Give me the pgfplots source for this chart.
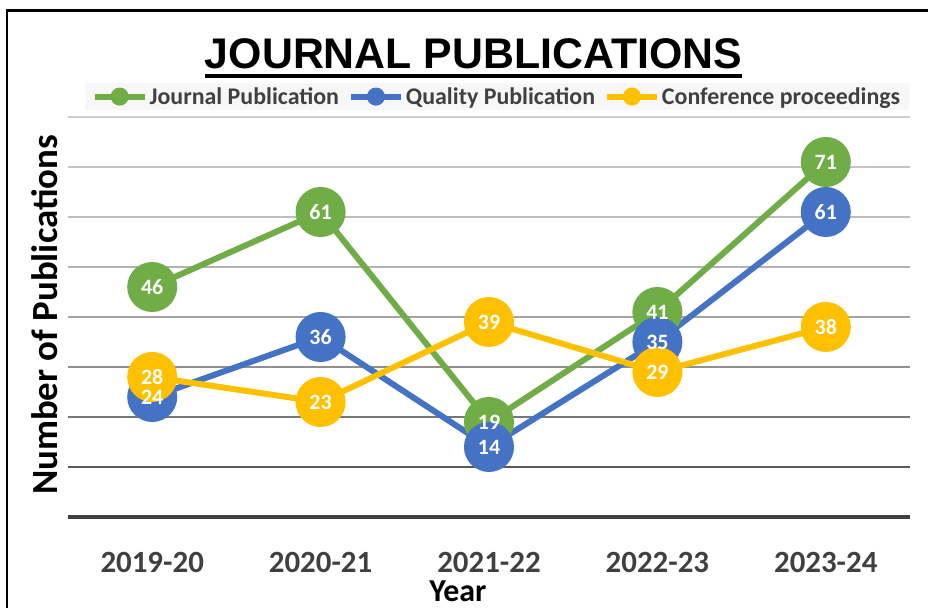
\documentclass[border=0pt]{standalone}
\usepackage{pgfplots}
\pgfplotsset{compat=1.18}
\usepackage{pgfplotstable}
\usepackage{fontspec}
\setmainfont{Carlito}
\newfontfamily\arialfont{Liberation Sans}
\definecolor{jgreen}{HTML}{70AD47}
\definecolor{qblue}{HTML}{4472C4}
\definecolor{cyellow}{HTML}{FFC000}
\definecolor{txtgray}{HTML}{404040}
\definecolor{g80}{HTML}{CCCCCC}
\definecolor{g70}{HTML}{C4C4C4}
\definecolor{g60}{HTML}{BDBDBD}
\definecolor{g50}{HTML}{B2B2B2}
\definecolor{g40}{HTML}{A3A3A3}
\definecolor{g30}{HTML}{909090}
\definecolor{g20}{HTML}{777777}
\definecolor{g10}{HTML}{595959}
\definecolor{g0}{HTML}{404040}
\pgfplotstableread{
x J Q C
0 46 24 28
1 61 36 23
2 19 14 39
3 41 35 29
4 71 61 38
}\pubdata
\begin{document}
\begin{tikzpicture}
\begin{axis}[
  name=ax, scale only axis,
  width=842bp, height=400bp,
  xmin=-0.5, xmax=4.5, ymin=0, ymax=80,
  axis line style={draw=none},
  ytick=\empty,
  xtick={0,1,2,3,4},
  xticklabels={2019-20,2020-21,2021-22,2022-23,2023-24},
  major tick length=0,
  xticklabel style={anchor=base, yshift=-56bp, font=\bfseries\fontsize{31}{31}\selectfont, text=txtgray},
  xlabel={Year},
  xlabel style={at={(axis description cs:0.5,0)}, anchor=base, xshift=-31bp, yshift=-85bp, font=\bfseries\fontsize{32}{32}\selectfont, text=black},
  ylabel={Number of Publications},
  ylabel style={at={(axis description cs:-0.013,0.505)}, anchor=base, font=\bfseries\fontsize{37}{37}\selectfont, text=black},
  clip=false,
  legend columns=3,
  legend style={at={(axis description cs:0.5095,1.051)}, anchor=center, draw=none, fill=black!3,
    font=\bfseries\fontsize{24}{24}\selectfont, text=txtgray,
    inner xsep=7bp, inner ysep=2bp,
    /tikz/every even column/.append style={column sep=7bp}},
  legend cell align=left,
]
\coordinate (TL) at (axis cs:-0.9038,103.4);
\coordinate (BR) at (axis cs:4.607,-18.2);
\draw[g80, line width=2.5bp] (axis cs:-0.5,80) -- (axis cs:4.5,80);
\draw[g70, line width=2.5bp] (axis cs:-0.5,70) -- (axis cs:4.5,70);
\draw[g60, line width=2.5bp] (axis cs:-0.5,60) -- (axis cs:4.5,60);
\draw[g50, line width=2.5bp] (axis cs:-0.5,50) -- (axis cs:4.5,50);
\draw[g40, line width=2.5bp] (axis cs:-0.5,40) -- (axis cs:4.5,40);
\draw[g30, line width=2.5bp] (axis cs:-0.5,30) -- (axis cs:4.5,30);
\draw[g20, line width=2.5bp] (axis cs:-0.5,20) -- (axis cs:4.5,20);
\draw[g10, line width=2.5bp] (axis cs:-0.5,10) -- (axis cs:4.5,10);
\draw[g0, line width=3.5bp] (axis cs:-0.5,0) -- (axis cs:4.5,0);

\addplot[jgreen, line width=6bp, mark=*, mark size=22bp, mark options={solid},
  legend image code/.code={\draw[jgreen,line width=6bp] (0bp,0bp) -- (50bp,0bp); \fill[jgreen] (25bp,0bp) circle (6bp);}]
  table[x=x, y=J] {\pubdata};
\addlegendentry{Journal Publication}
\addplot[qblue, line width=6bp, mark=*, mark size=22bp, mark options={solid},
  legend image code/.code={\draw[qblue,line width=6bp] (0bp,0bp) -- (50bp,0bp); \fill[qblue] (25bp,0bp) circle (6bp);}]
  table[x=x, y=Q] {\pubdata};
\addlegendentry{Quality Publication}
\addplot[cyellow, line width=6bp, mark=*, mark size=22bp, mark options={solid},
  legend image code/.code={\draw[cyellow,line width=6bp] (0bp,0bp) -- (50bp,0bp); \fill[cyellow] (25bp,0bp) circle (6bp);}]
  table[x=x, y=C] {\pubdata};
\addlegendentry{Conference proceedings}

\pgfplotsset{lbl/.style={draw=none, mark=none, forget plot,
  nodes near coords={\pgfmathprintnumber[assume math mode=true]{\pgfplotspointmeta}},
  every node near coord/.style={anchor=center, inner sep=0, text=white, font=\bfseries\fontsize{22}{22}\selectfont}}}
\addplot[lbl] table[x=x, y=J] {\pubdata};
\addplot[lbl] table[x=x, y=Q] {\pubdata};
\addplot[lbl] table[x=x, y=C] {\pubdata};
\end{axis}
\draw[line width=2.5bp] ([xshift=7bp]TL |- BR) -- ([xshift=7bp,yshift=-10.5bp]TL) -- ([yshift=-10.5bp]TL -| BR);
\node[font=\arialfont\bfseries\fontsize{43}{43}\selectfont, inner sep=0, anchor=base] (title) at ([xshift=473.5bp,yshift=-68.5bp]TL) {JOURNAL PUBLICATIONS};
\draw[line width=4bp] ([yshift=-7.5bp]title.base west) -- ([yshift=-7.5bp]title.base east);
\pgfresetboundingbox
\useasboundingbox (TL) rectangle (BR);
\end{tikzpicture}
\end{document}
